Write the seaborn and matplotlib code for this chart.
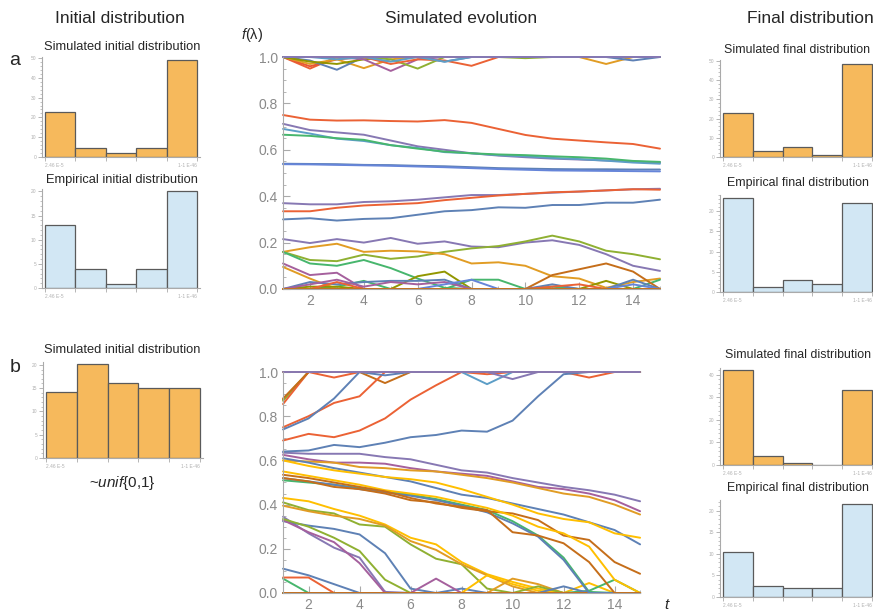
import numpy as np
import pandas as pd
import seaborn as sns
import matplotlib.pyplot as plt
from matplotlib.ticker import MultipleLocator

# time steps
t = list(range(1, 16))

# ---------- panel a : simulated evolution ----------
a_top = [
    [1, 0.95, 1, 1, 1, 1, 1, 1, 1, 1, 1, 1, 1, 1, 1],
    [1, 0.96, 0.99, 1, 1, 1, 1, 1, 1, 1, 1, 1, 1, 1, 1],
    [1, 0.97, 0.99, 0.952, 0.99, 1, 1, 1, 1, 1, 1, 1, 0.97, 1, 1],
    [1, 0.985, 0.945, 1, 1, 1, 0.98, 1, 1, 1, 1, 1, 1, 0.985, 1],
    [1, 0.98, 0.97, 0.99, 1, 1, 1, 1, 1, 1, 1, 1, 1, 1, 1],
    [1, 1, 1, 0.99, 0.94, 0.99, 1, 1, 1, 1, 1, 1, 1, 1, 1],
    [1, 1, 1, 1, 0.99, 0.95, 1, 1, 1, 0.995, 1, 1, 1, 1, 1],
    [1, 1, 1, 1, 0.97, 0.99, 0.985, 0.962, 1, 1, 1, 1, 1, 1, 1],
    [1, 1, 0.99, 1, 0.98, 1, 0.98, 1, 1, 1, 1, 1, 1, 1, 1],
    [1, 1, 1, 1, 1, 1, 1, 1, 1, 1, 1, 1, 1, 1, 1],
]
a_top_col = ['#EB6235', '#E95536', '#E19C24', '#5E81B5', '#929600',
             '#A5609D', '#8FB032', '#EB6235', '#5D9EC7', '#8778B3']

a_mid = [
    [0.75, 0.73, 0.726, 0.727, 0.724, 0.722, 0.728, 0.716, 0.69, 0.664, 0.648, 0.64, 0.632, 0.625, 0.605],
    [0.712, 0.685, 0.675, 0.665, 0.64, 0.615, 0.6, 0.585, 0.575, 0.568, 0.562, 0.558, 0.554, 0.55, 0.545],
    [0.69, 0.67, 0.648, 0.638, 0.62, 0.608, 0.59, 0.585, 0.577, 0.572, 0.565, 0.56, 0.553, 0.545, 0.54],
    [0.665, 0.66, 0.65, 0.643, 0.62, 0.605, 0.592, 0.585, 0.58, 0.577, 0.572, 0.568, 0.562, 0.552, 0.548],
    [0.54, 0.539, 0.538, 0.535, 0.534, 0.531, 0.529, 0.525, 0.521, 0.519, 0.517, 0.516, 0.516, 0.515, 0.515],
    [0.538, 0.537, 0.535, 0.533, 0.531, 0.528, 0.525, 0.521, 0.517, 0.514, 0.511, 0.51, 0.509, 0.508, 0.507],
    [0.37, 0.365, 0.365, 0.375, 0.378, 0.385, 0.395, 0.405, 0.405, 0.41, 0.415, 0.42, 0.425, 0.43, 0.432],
    [0.335, 0.335, 0.35, 0.36, 0.365, 0.37, 0.383, 0.393, 0.403, 0.41, 0.417, 0.42, 0.425, 0.43, 0.428],
    [0.3, 0.305, 0.295, 0.302, 0.305, 0.32, 0.335, 0.34, 0.352, 0.35, 0.362, 0.362, 0.372, 0.372, 0.385],
]
a_mid_col = ['#EB6235', '#8778B3', '#5D9EC7', '#47B66D', '#5E81B5',
             '#6685D9', '#8778B3', '#EB6235', '#5E81B5']

a_low = [
    [0.215, 0.198, 0.215, 0.2, 0.22, 0.195, 0.205, 0.183, 0.18, 0.2, 0.21, 0.19, 0.15, 0.1, 0.078],
    [0.16, 0.125, 0.12, 0.148, 0.13, 0.14, 0.16, 0.175, 0.185, 0.205, 0.23, 0.205, 0.165, 0.15, 0.128],
    [0.16, 0.18, 0.195, 0.16, 0.165, 0.162, 0.15, 0.11, 0.115, 0.1, 0.055, 0.045, 0.005, 0.03, 0.045],
    [0.16, 0.11, 0.1, 0.125, 0.09, 0.045, 0.005, 0, 0, 0, 0, 0, 0, 0, 0.04],
    [0, 0, 0.01, 0.035, 0, 0, 0, 0.04, 0.04, 0, 0.01, 0, 0, 0, 0],
    [0.11, 0.06, 0.07, 0, 0, 0, 0, 0, 0, 0, 0, 0, 0, 0, 0],
    [0.095, 0.045, 0, 0, 0, 0, 0, 0, 0, 0, 0, 0, 0, 0, 0],
    [0, 0.01, 0.01, 0, 0, 0.055, 0.075, 0, 0, 0, 0, 0, 0.035, 0, 0],
    [0, 0, 0, 0, 0, 0, 0, 0, 0, 0, 0.06, 0.085, 0.11, 0.075, 0],
    [0, 0.03, 0.02, 0.03, 0.035, 0.035, 0.04, 0, 0, 0, 0.02, 0, 0, 0.04, 0],
    [0, 0.02, 0.04, 0.01, 0.03, 0.02, 0.03, 0, 0, 0, 0, 0, 0, 0, 0],
    [0, 0, 0.03, 0, 0, 0, 0, 0, 0, 0, 0.01, 0.02, 0, 0, 0],
    [0, 0, 0, 0, 0, 0, 0.02, 0.04, 0, 0, 0, 0, 0, 0.02, 0],
    [0, 0, 0, 0, 0, 0, 0, 0, 0, 0, 0, 0, 0, 0, 0],
    [0, 0, 0, 0, 0, 0, 0, 0, 0, 0, 0, 0, 0, 0, 0],
]
a_low_col = ['#8778B3', '#8FB032', '#E19C24', '#47B66D', '#47B66D',
             '#A5609D', '#E19C24', '#929600', '#C56E1A', '#5E81B5',
             '#A5609D', '#EB6235', '#6685D9', '#E19C24', '#C56E1A']

# ---------- panel b : simulated evolution ----------
b_high = [
    [0.875, 1, 1, 1, 1, 1, 1, 1, 1, 1, 1, 1, 1, 1, 1],
    [0.87, 1, 1, 1, 1, 1, 1, 1, 1, 1, 1, 1, 1, 1, 1],
    [0.855, 1, 0.975, 1, 1, 1, 1, 1, 1, 1, 1, 1, 1, 1, 1],
    [0.88, 1, 1, 1, 0.95, 1, 1, 1, 1, 1, 1, 1, 1, 1, 1],
    [0.75, 0.8, 0.86, 0.89, 1, 1, 1, 1, 1, 1, 1, 1, 1, 1, 1],
    [0.74, 0.79, 0.88, 1, 0.985, 1, 1, 1, 1, 1, 1, 1, 1, 1, 1],
    [0.69, 0.72, 0.705, 0.735, 0.79, 0.875, 0.94, 1, 0.99, 1, 1, 1, 0.975, 1, 1],
    [0.64, 0.645, 0.67, 0.66, 0.68, 0.705, 0.715, 0.735, 0.73, 0.78, 0.89, 0.99, 1, 1, 1],
    [1, 1, 1, 1, 1, 1, 1, 1, 0.945, 1, 1, 1, 1, 1, 1],
    [1, 1, 1, 1, 1, 1, 1, 1, 1, 0.968, 1, 1, 1, 1, 1],
    [1, 1, 1, 1, 1, 1, 1, 1, 1, 1, 1, 1, 1, 1, 1],
    [1, 1, 1, 1, 1, 1, 1, 1, 1, 1, 1, 1, 1, 1, 1],
]
b_high_col = ['#929600', '#8FB032', '#EB6235', '#C56E1A', '#EB6235', '#5E81B5',
              '#EB6235', '#5E81B5', '#5D9EC7', '#8778B3', '#E19C24', '#8778B3']

b_mid = [
    [0.635, 0.63, 0.63, 0.63, 0.615, 0.605, 0.58, 0.555, 0.545, 0.52, 0.5, 0.48, 0.465, 0.445, 0.415],
    [0.625, 0.605, 0.59, 0.59, 0.585, 0.565, 0.55, 0.54, 0.53, 0.505, 0.48, 0.47, 0.45, 0.42, 0.37],
    [0.6, 0.595, 0.59, 0.57, 0.565, 0.555, 0.55, 0.535, 0.52, 0.5, 0.475, 0.45, 0.435, 0.4, 0.355],
    [0.61, 0.59, 0.565, 0.545, 0.525, 0.505, 0.475, 0.445, 0.43, 0.405, 0.38, 0.355, 0.32, 0.285, 0.22],
    [0.6, 0.575, 0.555, 0.54, 0.525, 0.515, 0.5, 0.47, 0.435, 0.4, 0.36, 0.335, 0.32, 0.27, 0.25],
    [0.51, 0.5, 0.49, 0.475, 0.46, 0.445, 0.425, 0.4, 0.375, 0.325, 0.26, 0.16, 0.005, 0, 0],
    [0.52, 0.505, 0.49, 0.47, 0.455, 0.44, 0.42, 0.395, 0.365, 0.315, 0.255, 0.15, 0, 0, 0],
    [0.52, 0.505, 0.48, 0.47, 0.45, 0.42, 0.41, 0.385, 0.37, 0.36, 0.33, 0.26, 0.24, 0.14, 0.087],
    [0.55, 0.53, 0.51, 0.49, 0.465, 0.45, 0.435, 0.41, 0.385, 0.35, 0.3, 0.27, 0.21, 0.06, 0],
    [0.535, 0.52, 0.5, 0.48, 0.46, 0.43, 0.405, 0.39, 0.375, 0.275, 0.26, 0.225, 0.14, 0, 0],
]
b_mid_col = ['#8778B3', '#A5609D', '#E19C24', '#5E81B5', '#FFBF00',
             '#47B66D', '#5E81B5', '#C56E1A', '#FFBF00', '#C56E1A']

b_low = [
    [0.43, 0.415, 0.38, 0.35, 0.31, 0.25, 0.22, 0.14, 0.085, 0.05, 0.02, 0, 0, 0, 0],
    [0.41, 0.375, 0.36, 0.31, 0.3, 0.22, 0.155, 0.13, 0.02, 0, 0, 0, 0, 0, 0],
    [0.395, 0.37, 0.35, 0.335, 0.305, 0.235, 0.195, 0.13, 0.08, 0.03, 0, 0, 0, 0, 0],
    [0.345, 0.27, 0.205, 0.16, 0.005, 0, 0, 0, 0, 0, 0, 0, 0, 0, 0],
    [0.325, 0.305, 0.29, 0.265, 0.18, 0.02, 0, 0.02, 0, 0, 0, 0, 0, 0, 0],
    [0.33, 0.275, 0.23, 0.135, 0, 0, 0.065, 0, 0, 0, 0, 0, 0, 0, 0],
    [0.335, 0.3, 0.25, 0.19, 0.06, 0, 0, 0, 0, 0, 0, 0, 0, 0, 0],
    [0.11, 0.08, 0.04, 0, 0, 0, 0, 0, 0, 0, 0, 0, 0, 0, 0],
    [0.065, 0, 0, 0, 0, 0, 0, 0, 0, 0, 0, 0, 0, 0, 0],
    [0, 0, 0, 0, 0, 0, 0, 0, 0.08, 0.04, 0.01, 0, 0.045, 0, 0],
    [0, 0, 0, 0, 0, 0, 0, 0, 0, 0.065, 0.04, 0, 0, 0, 0],
    [0, 0, 0, 0, 0, 0, 0, 0, 0, 0, 0.03, 0, 0, 0, 0],
    [0, 0, 0, 0, 0, 0, 0, 0, 0, 0, 0, 0, 0.01, 0.06, 0],
    [0, 0, 0, 0, 0, 0, 0, 0, 0, 0, 0, 0.03, 0, 0, 0],
    [0.07, 0.07, 0, 0, 0, 0, 0, 0, 0, 0, 0, 0, 0, 0, 0],
    [0, 0, 0, 0, 0, 0, 0, 0, 0, 0, 0, 0, 0, 0, 0],
]
b_low_col = ['#FFBF00', '#8FB032', '#E19C24', '#8778B3', '#5E81B5', '#A5609D',
             '#8FB032', '#5E81B5', '#47B66D', '#FFBF00', '#E19C24', '#8FB032',
             '#47B66D', '#5E81B5', '#EB6235', '#C56E1A']

# ---------- histograms (5 bins) ----------
bin_edges = [0, 0.2, 0.4, 0.6, 0.8, 1.0]
edge_labels = ['2.46 E-5', '', '', '', '', '1-1 E-46']
a_sim_init = [22.5, 4.3, 2.0, 4.3, 48.8]
a_emp_init = [13, 4, 0.9, 4, 20]
a_sim_final = [22.9, 3, 5.2, 1, 48.4]
a_emp_final = [23.2, 1.2, 3, 2, 22]
b_sim_init = [14.2, 20.2, 16.2, 15, 15]
b_sim_final = [41.9, 4, 0.9, 0, 33.1]
b_emp_final = [10.5, 2.6, 2.1, 2.1, 21.5]

sns.set_theme(style='white')
plt.rcParams['font.family'] = ['Liberation Sans', 'DejaVu Sans']
plt.rcParams['mathtext.fontset'] = 'custom'
plt.rcParams['mathtext.it'] = 'Liberation Sans:italic'
plt.rcParams['mathtext.rm'] = 'Liberation Sans'

ORANGE = '#F6B95C'
LBLUE = '#D2E7F4'
EDGE = '#5a5a5a'
AXC = '#aaaaaa'
TXC = '#8a8a8a'

fig = plt.figure(figsize=(8.73, 6.15), dpi=100)


def evolution(rect, groups, lw=1.4):
    ax = fig.add_axes(rect)
    rows = []
    pal = {}
    k = 0
    for series, cols in groups:
        for vals, c in zip(series, cols):
            name = 'L%02d' % k
            pal[name] = c
            for tt, v in zip(t, vals):
                rows.append({'t': tt, 'f': v, 'line': name})
            k += 1
    df = pd.DataFrame(rows)
    sns.lineplot(data=df, x='t', y='f', hue='line', palette=pal, estimator=None,
                 sort=False, legend=False, linewidth=lw, ax=ax)
    for ln in ax.lines:
        ln.set_clip_on(False)
    ax.set_xlim(1, 15)
    ax.set_ylim(0, 1)
    ax.set_xlabel('')
    ax.set_ylabel('')
    for s in ['top', 'right']:
        ax.spines[s].set_visible(False)
    for s in ['left', 'bottom']:
        ax.spines[s].set_color(AXC)
        ax.spines[s].set_linewidth(0.8)
    ax.xaxis.set_major_locator(MultipleLocator(2))
    ax.xaxis.set_minor_locator(MultipleLocator(1))
    ax.yaxis.set_major_locator(MultipleLocator(0.2))
    ax.yaxis.set_minor_locator(MultipleLocator(0.05))
    ax.yaxis.set_major_formatter(plt.FormatStrFormatter('%.1f'))
    ax.tick_params(which='both', direction='in', colors=AXC, labelcolor=TXC,
                   labelsize=10, left=True, bottom=True)
    ax.tick_params(which='major', length=5, width=0.8)
    ax.tick_params(which='minor', length=2.5, width=0.6)
    return ax


def hist(rect, vals, color, step, top, title=None, tx=None, ty=None, ha='center', fs=9.3):
    ax = fig.add_axes(rect)
    centers = [(bin_edges[i] + bin_edges[i + 1]) / 2 for i in range(5)]
    sns.histplot(x=centers, weights=vals, bins=bin_edges, color=color, alpha=1,
                 edgecolor=EDGE, linewidth=0.9, ax=ax)
    ax.set_xlim(-0.02, 1.02)
    ax.set_ylim(0, top)
    ax.set_xlabel('')
    ax.set_ylabel('')
    for s in ['top', 'right']:
        ax.spines[s].set_visible(False)
    for s in ['left', 'bottom']:
        ax.spines[s].set_color(AXC)
        ax.spines[s].set_linewidth(0.8)
    ax.set_xticks(bin_edges)
    ax.set_xticklabels(edge_labels)
    labs = ax.get_xticklabels()
    labs[0].set_horizontalalignment('left')
    labs[-1].set_horizontalalignment('right')
    ax.yaxis.set_major_locator(MultipleLocator(step))
    ax.yaxis.set_minor_locator(MultipleLocator(step / 5))
    ax.tick_params(which='both', direction='out', colors=AXC, labelcolor='#b0b0b0',
                   labelsize=3.5, left=True, bottom=True, pad=1)
    ax.tick_params(which='major', length=3, width=0.6)
    ax.tick_params(which='minor', length=1.5, width=0.5)
    if title:
        fig.text(tx, ty, title, ha=ha, va='center', fontsize=fs)
    return ax


# column headers and panel letters
fig.text(0.137, 0.970, 'Initial distribution', ha='center', va='center', fontsize=12.5)
fig.text(0.528, 0.970, 'Simulated evolution', ha='center', va='center', fontsize=12.5)
fig.text(0.928, 0.970, 'Final distribution', ha='center', va='center', fontsize=12.5)
fig.text(0.017, 0.902, 'a', ha='center', va='center', fontsize=14)
fig.text(0.017, 0.403, 'b', ha='center', va='center', fontsize=14)

# evolution panels
evolution([0.3242, 0.5301, 0.4318, 0.3772], [(a_mid, a_mid_col), (a_low, a_low_col), (a_top, a_top_col)])
evolution([0.3242, 0.0358, 0.4090, 0.3593], [(b_low, b_low_col), (b_mid, b_mid_col), (b_high, b_high_col)])
fig.text(0.289, 0.943, '$f$(λ)', ha='center', va='center', fontsize=10.5)
fig.text(0.764, 0.016, '$t$', ha='center', va='center', fontsize=11)

# initial distributions
hist([0.0481, 0.7447, 0.1810, 0.1626], a_sim_init, ORANGE, 10, 50.5,
     'Simulated initial distribution', 0.140, 0.924)
hist([0.0481, 0.5317, 0.1810, 0.1610], a_emp_init, LBLUE, 5, 20.5,
     'Empirical initial distribution', 0.140, 0.707)
hist([0.0493, 0.2553, 0.1833, 0.1560], b_sim_init, ORANGE, 5, 20.6,
     'Simulated initial distribution', 0.140, 0.431)
fig.text(0.140, 0.215, '~$unif${0,1}', ha='center', va='center', fontsize=11)

# final distributions
hist([0.8247, 0.7447, 0.1776, 0.1580], a_sim_final, ORANGE, 10, 50.5,
     'Simulated final distribution', 0.829, 0.919, ha='left', fs=8.9)
hist([0.8247, 0.5252, 0.1776, 0.1580], a_emp_final, LBLUE, 5, 24,
     'Empirical final distribution', 0.833, 0.702, ha='left', fs=8.9)
hist([0.8247, 0.2439, 0.1776, 0.1580], b_sim_final, ORANGE, 10, 43,
     'Simulated final distribution', 0.831, 0.423, ha='left', fs=8.9)
hist([0.8247, 0.0293, 0.1776, 0.1580], b_emp_final, LBLUE, 5, 22.5,
     'Empirical final distribution', 0.833, 0.207, ha='left', fs=8.9)

fig.savefig('out.png', dpi=100)
